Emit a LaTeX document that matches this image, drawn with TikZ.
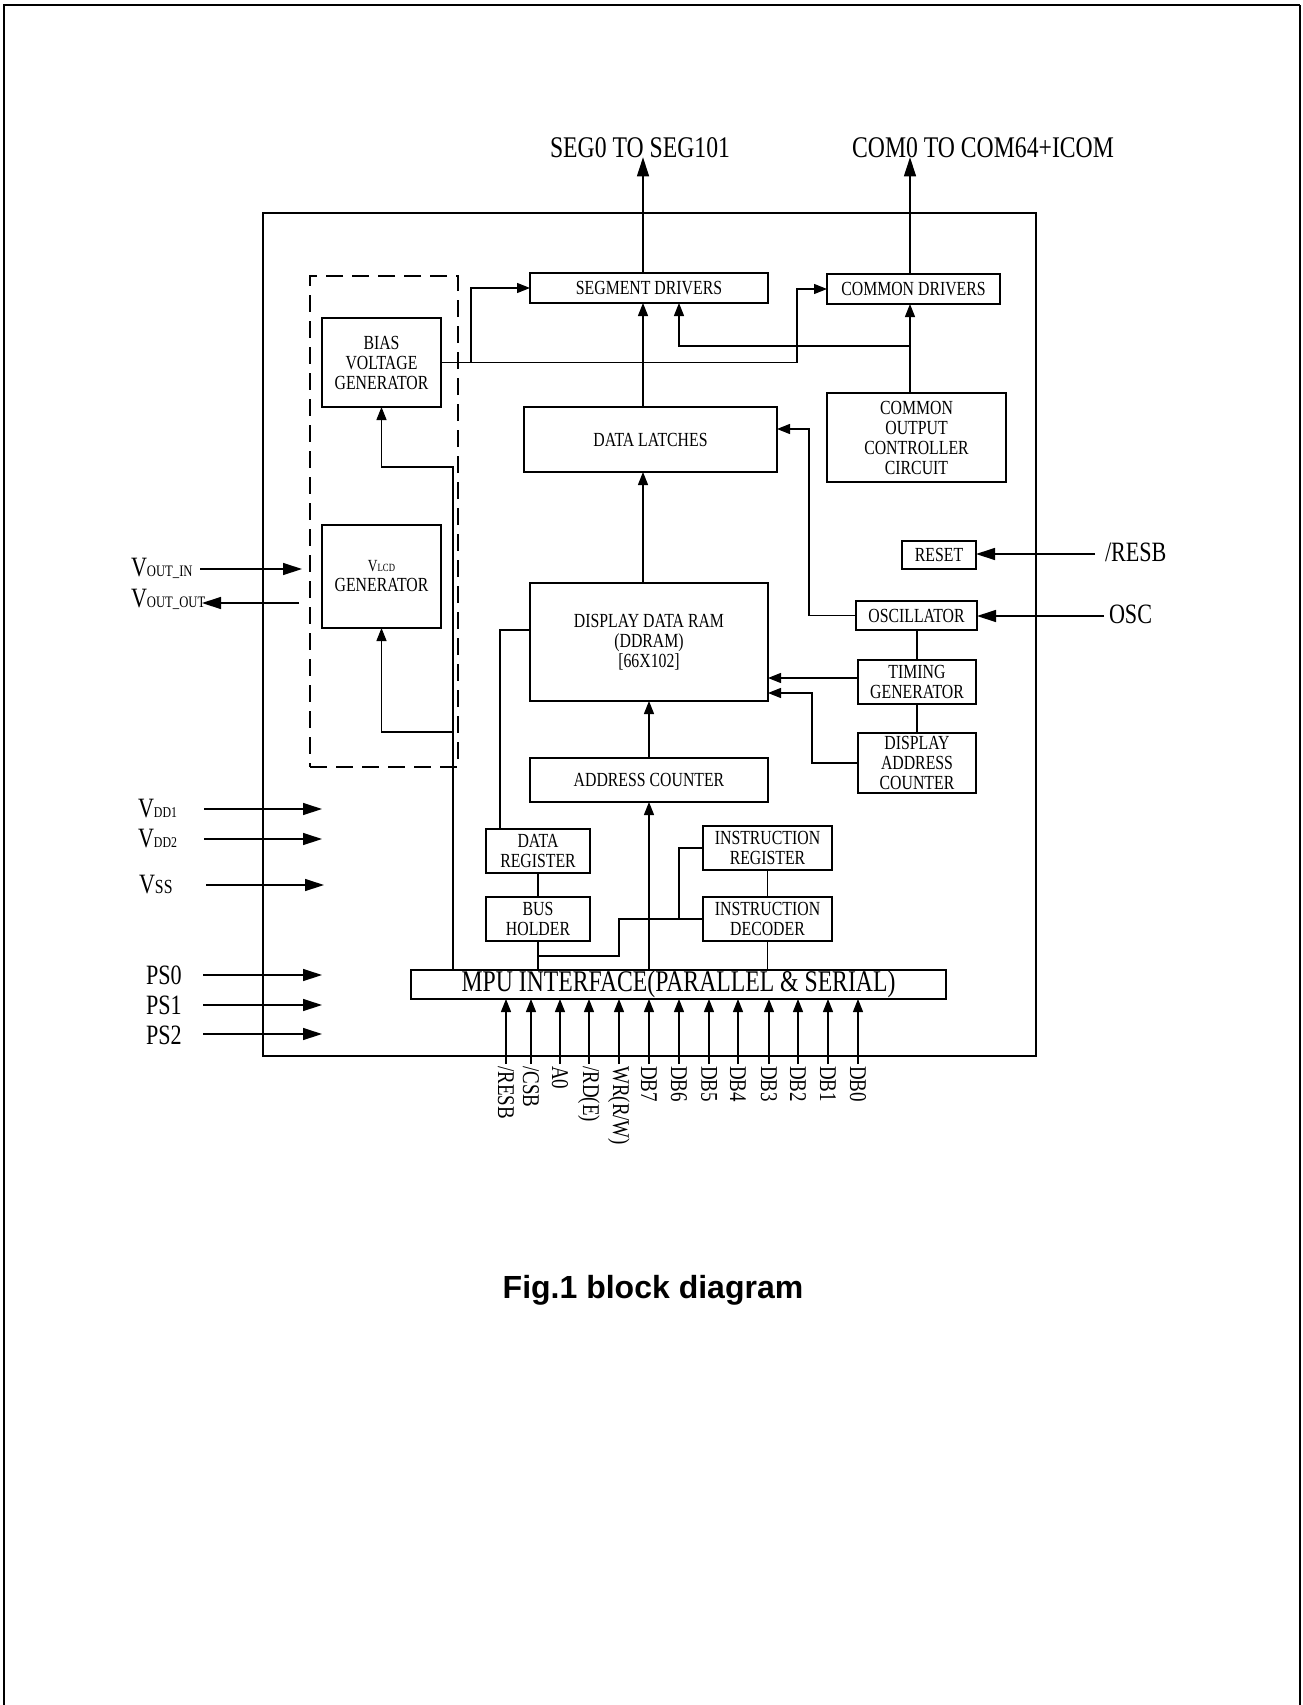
\documentclass[tikz,border=0pt]{standalone}
\usepackage{fontspec}
\setmainfont{Liberation Serif}[FakeStretch=0.79]
\newfontfamily\capfont{Liberation Sans}
\usetikzlibrary{arrows.meta}
\newcommand\myfs[1]{\fontsize{#1}{#1}\selectfont}
\begin{document}
\begin{tikzpicture}[x=1pt,y=-1pt,
  blk/.style={draw, line width=1.2pt, inner sep=0pt, outer sep=0pt, align=center, font=\myfs{20}},
  ln/.style={line width=1.2pt},
  arr/.style={line width=1.2pt, -{Triangle[length=13pt,width=10pt]}},
  bigarr/.style={line width=1.3pt, -{Triangle[length=19pt,width=12pt]}},
  lbl/.style={inner sep=0pt, outer sep=0pt},
  pinlbl/.style={rotate=-90, anchor=west, inner sep=2pt, font=\myfs{24}}]
\useasboundingbox (0,0) rectangle (1302,1705);
% page frame
\draw[line width=1.5pt] (4,1705) -- (4,5) -- (1300,5);
\draw[line width=2.5pt] (1300,5) -- (1300,1705);
% chip outline and dashed power block
\node[draw, line width=1.3pt, inner sep=0pt, minimum width=773, minimum height=843] (chip) at (649.5,634.5) {};
\node[draw, line width=2.5pt, dash pattern=on 17pt off 9pt, inner sep=0pt, minimum width=148, minimum height=491] (pwr) at (384,521.5) {};
% blocks
\node[blk, minimum width=119, minimum height=89] (bias) at (381.5,362.5) {BIAS\\VOLTAGE\\GENERATOR};
\node[blk, minimum width=119, minimum height=103] (vlcd) at (381.5,576.5) {{\myfs{17}V}{\myfs{11}LCD}\\GENERATOR};
\node[blk, minimum width=238, minimum height=30] (seg) at (649,288) {SEGMENT DRIVERS};
\node[blk, minimum width=173, minimum height=30] (com) at (913.5,289) {COMMON DRIVERS};
\node[blk, minimum width=253, minimum height=65] (latch) at (650.5,439.5) {DATA LATCHES};
\node[blk, minimum width=179, minimum height=89] (coc) at (916.5,437.5) {COMMON\\OUTPUT\\CONTROLLER\\CIRCUIT};
\node[blk, minimum width=74, minimum height=28] (reset) at (939,555) {RESET};
\node[blk, minimum width=121, minimum height=29] (osc) at (916.5,615.5) {OSCILLATOR};
\node[blk, minimum width=118, minimum height=44] (tim) at (917,682) {TIMING\\GENERATOR};
\node[blk, minimum width=118, minimum height=60] (dac) at (917,763) {DISPLAY\\ADDRESS\\COUNTER};
\node[blk, minimum width=238, minimum height=118] (ddram) at (649,642) {DISPLAY DATA RAM\\(DDRAM)\\{[66X102]}};
\node[blk, minimum width=238, minimum height=44] (addr) at (649,780) {ADDRESS COUNTER};
\node[blk, minimum width=104, minimum height=44] (dreg) at (538,851) {DATA\\REGISTER};
\node[blk, minimum width=104, minimum height=44] (bus) at (538,919) {BUS\\HOLDER};
\node[blk, minimum width=129, minimum height=44] (ireg) at (767.5,848) {INSTRUCTION\\REGISTER};
\node[blk, minimum width=129, minimum height=44] (idec) at (767.5,919) {INSTRUCTION\\DECODER};
\node[blk, font=\myfs{30}, minimum width=535, minimum height=29] (mpu) at (678.5,984.5) {MPU INTERFACE(PARALLEL \& SERIAL)};
% helper coordinates
\coordinate (xseg) at (643,0);
\coordinate (xcom) at (910,0);
\coordinate (x797) at (797,0);
\coordinate (x471) at (471,0);
\coordinate (x679) at (679,0);
\coordinate (y346) at (0,346);
\coordinate (x809) at (809,0);
\coordinate (y429) at (0,429);
\coordinate (xosc) at (917,0);
\coordinate (y678) at (0,678);
\coordinate (x812) at (812,0);
\coordinate (y693) at (0,693);
\coordinate (xac) at (649,0);
\coordinate (y630) at (0,630);
\coordinate (x500) at (500,0);
\coordinate (y956) at (0,956);
\coordinate (x619) at (619,0);
\coordinate (x453) at (453,0);
\coordinate (y467) at (0,467);
\coordinate (y732) at (0,732);
% top outputs
\node[lbl, anchor=base, font=\myfs{30}] (segl) at (640,157) {SEG0 TO SEG101};
\node[lbl, anchor=base, font=\myfs{30}] (coml) at (983,157) {COM0 TO COM64+ICOM};
\draw[bigarr] (seg.north -| xseg) -- (segl.south -| xseg);
\draw[bigarr] (com.north -| xcom) -- (coml.south -| xcom);
% bias voltage feeds
\draw[arr] (bias.east) -- (bias.east -| x797) |- (com.west);
\draw[arr] (bias.east -| x471) |- (seg.west);
% common output controller
\draw[arr] (coc.north -| xcom) -- (com.south -| xcom);
\draw[arr] (y346 -| xcom) -| (seg.south -| x679);
% data path
\draw[arr] (latch.north -| xseg) -- (seg.south -| xseg);
\draw[arr] (ddram.north -| xseg) -- (latch.south -| xseg);
\draw[arr] (osc.west) -| (x809 |- y429) -- (latch.east |- y429);
\draw[ln] (osc.south -| xosc) -- (tim.north -| xosc);
\draw[ln] (tim.south -| xosc) -- (dac.north -| xosc);
\draw[arr] (tim.west |- y678) -- (ddram.east |- y678);
\draw[arr] (dac.west) -| (x812 |- y693) -- (ddram.east |- y693);
\draw[arr] (addr.north -| xac) -- (ddram.south -| xac);
\draw[arr] (mpu.north -| xac) -- (addr.south -| xac);
\draw[ln] (ddram.west |- y630) -| (dreg.north -| x500);
\draw[ln] (dreg.south) -- (bus.north);
\draw[ln] (bus.south) -- (mpu.north -| bus.south);
\draw[ln] (bus.south |- y956) -| (x619 |- idec.west) -- (idec.west);
\draw[ln] (x679 |- idec.west) |- (ireg.west);
\draw[ln] (ireg.south) -- (idec.north);
\draw[ln] (idec.south) -- (mpu.north -| idec.south);
\draw[arr] (mpu.north -| x453) -- (x453 |- y467) -| (bias.south);
\draw[arr] (x453 |- y732) -| (vlcd.south);
% right inputs
\coordinate (rt) at (1095,554);
\coordinate (ot) at (1104,616);
\node[lbl, anchor=base west, font=\myfs{28}] (resbl) at (1105,561) {/RESB};
\node[lbl, anchor=base west, font=\myfs{28}] (oscl) at (1109,623) {OSC};
\draw[bigarr] (rt) -- (reset.east |- rt);
\draw[bigarr] (ot) -- (osc.east |- ot);
% left side power pins
\node[lbl, anchor=base west] (vinl) at (131,576) {{\myfs{28}V}{\myfs{16}OUT\_IN}};
\node[lbl, anchor=base west] (voutl) at (131,607) {{\myfs{28}V}{\myfs{16}OUT\_OUT}};
\coordinate (vit) at (200,569); \coordinate (vih) at (302,569);
\coordinate (vot) at (299,603); \coordinate (voh) at (202,603);
\draw[bigarr] (vit) -- (vih);
\draw[bigarr] (vot) -- (voh);
\node[lbl, anchor=base west] (vdd1l) at (138,817) {{\myfs{28}V}{\myfs{15}DD1}};
\node[lbl, anchor=base west] (vdd2l) at (138,847) {{\myfs{28}V}{\myfs{15}DD2}};
\node[lbl, anchor=base west] (vssl) at (139,893) {{\myfs{28}V}{\myfs{20}SS}};
\coordinate (d1t) at (204,809); \coordinate (d1h) at (322,809);
\coordinate (d2t) at (204,839); \coordinate (d2h) at (322,839);
\coordinate (sst) at (206,885); \coordinate (ssh) at (324,885);
\draw[bigarr] (d1t) -- (d1h);
\draw[bigarr] (d2t) -- (d2h);
\draw[bigarr] (sst) -- (ssh);
\node[lbl, anchor=base west, font=\myfs{28}] (ps0l) at (146,984) {PS0};
\node[lbl, anchor=base west, font=\myfs{28}] (ps1l) at (146,1014) {PS1};
\node[lbl, anchor=base west, font=\myfs{28}] (ps2l) at (146,1044) {PS2};
\coordinate (p0t) at (203,975); \coordinate (p0h) at (322,975);
\coordinate (p1t) at (203,1005); \coordinate (p1h) at (322,1005);
\coordinate (p2t) at (203,1034); \coordinate (p2h) at (322,1034);
\draw[bigarr] (p0t) -- (p0h);
\draw[bigarr] (p1t) -- (p1h);
\draw[bigarr] (p2t) -- (p2h);
% MPU pins
\foreach \nm/\xx/\tx in {pa/506/{/RESB}, pb/531/{/CSB}, pc/560/{A0}, pd/589/{/RD(E)}, pe/619/{WR(R/W)},
  pf/649/{DB7}, pg/679/{DB6}, ph/709/{DB5}, pi/738/{DB4}, pj/769/{DB3}, pk/798/{DB2}, pl/828/{DB1}, pm/858/{DB0}}{
  \node[pinlbl] (\nm) at (\xx,1064) {\tx};
  \draw[arr] (\nm.west) -- (mpu.south -| \nm.west);
}
% caption
\node[lbl, anchor=base, font=\capfont\bfseries\myfs{32}] (cap) at (653,1298) {Fig.1 block diagram};
\end{tikzpicture}
\end{document}
